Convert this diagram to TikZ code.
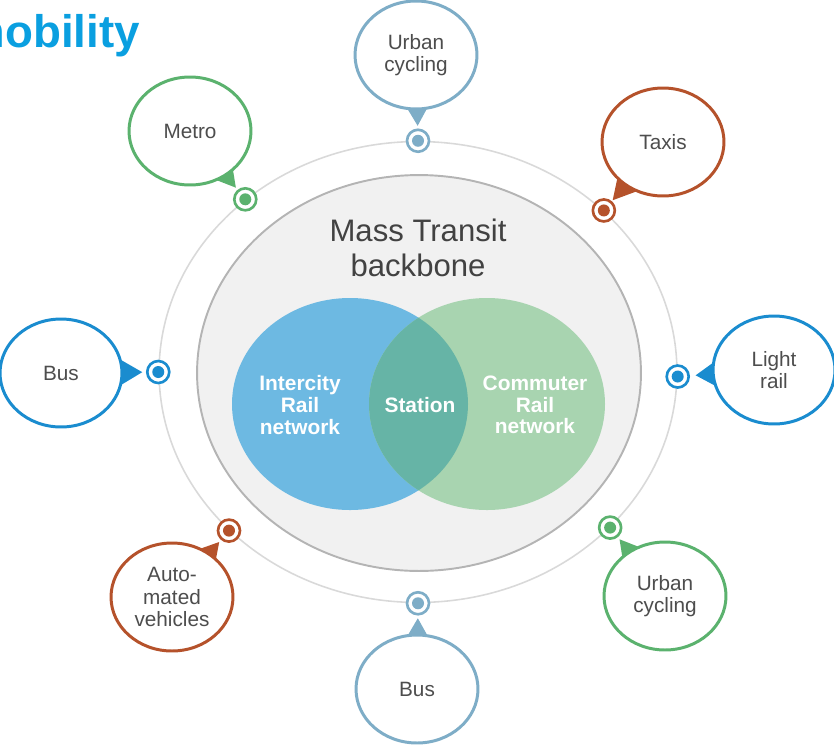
\documentclass[tikz,border=0pt]{standalone}
\usepackage{fontspec}
\setmainfont{Liberation Sans}
\usepackage{xcolor}
\definecolor{titleblue}{HTML}{0A9FE0}
\definecolor{steelring}{HTML}{7EADC7}
\definecolor{metrogreen}{HTML}{5BB26E}
\definecolor{taxiorange}{HTML}{B5522B}
\definecolor{busblue}{HTML}{1A8CCF}
\definecolor{railblue}{HTML}{6DB9E2}
\definecolor{commgreen}{HTML}{A8D4B0}
\definecolor{stationteal}{HTML}{66B4A6}
\definecolor{backfill}{HTML}{F1F1F1}
\definecolor{backline}{HTML}{B4B4B4}
\definecolor{ringgray}{HTML}{D9D9D9}
\definecolor{labelgray}{HTML}{4D4D4D}
\usetikzlibrary{
  positioning,
  calc,
  shapes.geometric,
  backgrounds
}

\begin{document}
\begin{tikzpicture}[
  x=0.02cm, y=-0.02cm,
  bubble/.style={
    ellipse, draw=#1, fill=white, line width=1.7pt, minimum width=2.44cm,
    minimum height=2.16cm, inner sep=0pt, align=center, text=labelgray,
    font=\fontsize{11.8}{12.8}\selectfont
  },
  stopdot/.style={
    circle, draw=#1, fill=white, line width=1.5pt, minimum size=0.44cm,
    inner sep=0pt,
    path picture={\fill[#1] (path picture bounding box.center) circle (0.12cm);}
  },
  vennlabel/.style={
    align=center, text=white, font=\fontsize{11.9}{12.4}\selectfont\bfseries
  }
]
\useasboundingbox (0,0) rectangle (834,744);

\node[anchor=base east, text=titleblue, font=\fontsize{26}{30}\selectfont\bfseries]
  (title) at (146,47) {mobility};

% rings
\node[ellipse, draw=ringgray, line width=0.9pt, minimum width=10.36cm,
  minimum height=9.22cm, inner sep=0pt] (ring) at (418,372) {};
\node[ellipse, draw=backline, fill=backfill, line width=1.1pt, minimum width=8.88cm,
  minimum height=7.92cm, inner sep=0pt] (backbone) at (419,373) {};

% venn
\fill[railblue] (350,404) ellipse [x radius=118, y radius=106];
\fill[commgreen] (487,404) ellipse [x radius=118, y radius=106];
\begin{scope}
  \clip (350,404) ellipse [x radius=118, y radius=106];
  \fill[stationteal] (487,404) ellipse [x radius=118, y radius=106];
\end{scope}

\node[align=center, text=labelgray!85!black, font=\fontsize{17.7}{20}\selectfont]
  (mass) at (418,248) {Mass Transit\\backbone};
\node[vennlabel] (intercity) at (300,405) {Intercity\\Rail\\network};
\node[vennlabel] (station) at (420,405) {Station};
\node[vennlabel] (commuter) at (535,405) {Commuter\\Rail\\network};

% stops on the ring
\node[stopdot=steelring] (dTop) at (ring.90) {};
\node[stopdot=metrogreen] (dMetro) at (ring.135.5) {};
\node[stopdot=taxiorange] (dTaxis) at (ring.41.6) {};
\node[stopdot=busblue] (dBus) at (ring.180) {};
\node[stopdot=busblue] (dLight) at (ring.359) {};
\node[stopdot=taxiorange] (dAuto) at (ring.220) {};
\node[stopdot=steelring] (dBottom) at (ring.270) {};
\node[stopdot=metrogreen] (dCycle) at (ring.321.6) {};

% bubbles
\node[bubble=steelring] (cycleTop) at (416,55) {Urban\\cycling};
\node[bubble=metrogreen] (metro) at (190,131) {Metro};
\node[bubble=taxiorange] (taxis) at (663,142) {Taxis};
\node[bubble=busblue] (busLeft) at (61,373) {Bus};
\node[bubble=busblue] (lightRail) at (774,370) {Light\\rail};
\node[bubble=taxiorange] (auto) at (172,597) {Auto-\\mated\\vehicles};
\node[bubble=steelring] (busBottom) at (417,689) {Bus};
\node[bubble=metrogreen] (cycleBR) at (665,596) {Urban\\cycling};

% pointers
\begin{scope}[on background layer]
\fill[steelring] ($(dTop)!0.3cm!(cycleTop.center)$) -- ($(dTop)!1.1cm!22:(cycleTop.center)$)
  -- ($(dTop)!1.1cm!-22:(cycleTop.center)$) -- cycle;
\fill[metrogreen] ($(dMetro)!0.3cm!(metro.center)$) -- ($(dMetro)!1.1cm!22:(metro.center)$)
  -- ($(dMetro)!1.1cm!-22:(metro.center)$) -- cycle;
\fill[taxiorange] ($(dTaxis)!0.27cm!(taxis.center)$) -- ($(dTaxis)!1.1cm!22:(taxis.center)$)
  -- ($(dTaxis)!1.1cm!-22:(taxis.center)$) -- cycle;
\fill[busblue] ($(dBus)!0.32cm!(busLeft.center)$) -- ($(dBus)!1.1cm!22:(busLeft.center)$)
  -- ($(dBus)!1.1cm!-22:(busLeft.center)$) -- cycle;
\fill[busblue] ($(dLight)!0.36cm!(lightRail.center)$) -- ($(dLight)!1.1cm!22:(lightRail.center)$)
  -- ($(dLight)!1.1cm!-22:(lightRail.center)$) -- cycle;
\fill[taxiorange] ($(dAuto)!0.3cm!(auto.center)$) -- ($(dAuto)!1.1cm!22:(auto.center)$)
  -- ($(dAuto)!1.1cm!-22:(auto.center)$) -- cycle;
\fill[steelring] ($(dBottom)!0.3cm!(busBottom.center)$) -- ($(dBottom)!1.1cm!22:(busBottom.center)$)
  -- ($(dBottom)!1.1cm!-22:(busBottom.center)$) -- cycle;
\fill[metrogreen] ($(dCycle)!0.3cm!(cycleBR.center)$) -- ($(dCycle)!1.1cm!22:(cycleBR.center)$)
  -- ($(dCycle)!1.1cm!-22:(cycleBR.center)$) -- cycle;
\end{scope}

\end{tikzpicture}
\end{document}
